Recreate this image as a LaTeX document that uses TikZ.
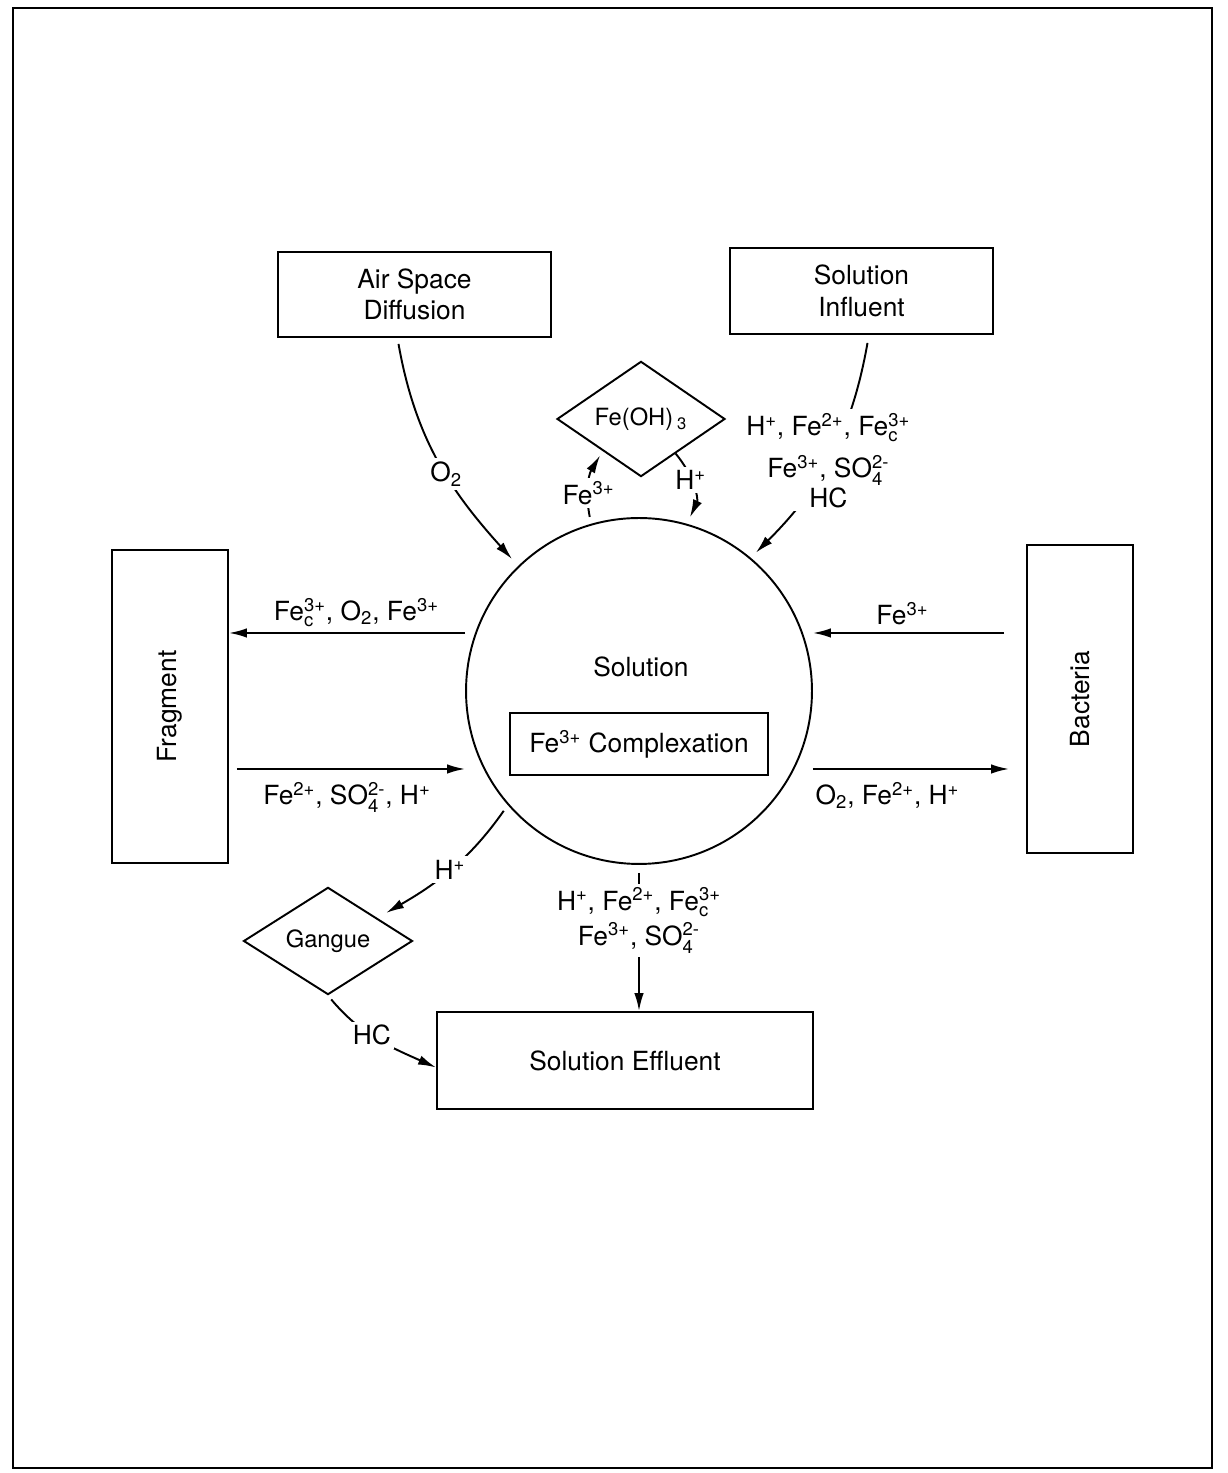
\documentclass[tikz,border=0pt]{standalone}
\usepackage{amsmath}
\usepackage{fontspec}
\setmainfont{TeX Gyre Heros}
\usetikzlibrary{arrows.meta,shapes.geometric,positioning}
\newcommand{\chsup}[1]{$^{\text{#1}}$}
\newcommand{\chsub}[1]{$_{\text{#1}}$}
\newcommand{\chss}[2]{$^{\text{#1}}_{\text{#2}}$}

\begin{document}
\begin{tikzpicture}[
            x=0.02cm, y=0.02cm,
            box/.style={draw, line width=1.1pt, align=center, inner sep=0pt, font=\fontsize{15}{18}\selectfont},
            dia/.style={diamond, draw, line width=1.1pt, inner sep=0pt, font=\fontsize{13.5}{16}\selectfont},
            ball/.style={circle, draw, line width=1.1pt, minimum size=6.92cm, inner sep=0pt},
            lab/.style={inner sep=2pt, align=center, font=\fontsize{15}{20}\selectfont},
            mask/.style={lab, fill=white},
            arr/.style={-{Latex[length=0.36cm,width=0.19cm]}, line width=1.1pt}
        ]

            \useasboundingbox (0,0) rectangle (1227,1473);
            \draw[line width=1.6pt] (13,5) rectangle (1212,1465);

% --- boxes ---
            \node[box, minimum width=5.46cm, minimum height=1.7cm] (air) at (414.5,1178.5) {Air Space\\Diffusion};
            \node[box, minimum width=5.26cm, minimum height=1.72cm] (infl) at (861.5,1182) {Solution\\Influent};
            \node[box, minimum width=2.32cm, minimum height=6.26cm] (frag) at (170,766.5) {};
            \node[lab, rotate=90] (fragname) at (frag) {Fragment};
            \node[box, minimum width=2.12cm, minimum height=6.16cm] (bact) at (1080,774) {};
            \node[lab, rotate=90] (bactname) at (bact) {Bacteria};
            \node[box, minimum width=7.52cm, minimum height=1.94cm] (eff) at (625,412.5) {Solution Effluent};

% --- solution circle ---
            \node[ball] (sol) at (639,782) {};
            \node[lab] (soltxt) at (641,806) {Solution};
            \node[box, minimum width=5.16cm, minimum height=1.24cm] (cplx) at (639,729) {Fe\chsup{3+} Complexation};

% --- precipitates ---
            \node[dia, minimum width=3.36cm, minimum height=1.98cm] (feoh) at (641,1054) {Fe(OH)\,\chsub{3}};
            \node[dia, minimum width=3.38cm, minimum height=1.9cm] (gang) at (328,532) {Gangue};

% --- inputs from above ---
            \draw[arr, shorten >=0.18cm] ([xshift=-0.32cm, yshift=-0.12cm]air.south) to[out=-80, in=132]
                node[mask, pos=0.55] (o2lab) {O\chsub{2}} (sol.134);
            \draw[arr, shorten >=0.14cm] ([xshift=0.12cm, yshift=-0.16cm]infl.south) to[out=-100, in=45]
                node[mask] (infllab) {H\chsup{+}, Fe\chsup{2+}, Fe\chss{3+}{c}\\[4pt] Fe\chsup{3+}, SO\chss{2-}{4}\\[-3pt] HC\hspace{44pt}} (sol.50);

% --- Fe(OH)3 loop ---
            \draw[arr, shorten <=0.14cm, shorten >=0.1cm] (sol.106) to[out=101, in=-121]
                node[mask, pos=0.4] (fe3lab) {Fe\chsup{3+}} (feoh.220);
            \draw[arr, shorten >=0.14cm] (feoh.-45) to[out=-50, in=65]
                node[mask, pos=0.4] (hlab) {H\chsup{+}} (sol.74);

% --- fragment exchange ---
            \draw[arr] (sol.west |- 0,840) -- node[lab, above=1pt, pos=0.46] (fragin) {Fe\chss{3+}{c}, O\chsub{2}, Fe\chsup{3+}} (frag.east |- 0,840);
            \draw[arr, shorten <=0.16cm] (frag.east |- 0,704) -- node[lab, below=5pt] (fragout) {Fe\chsup{2+}, SO\chss{2-}{4}, H\chsup{+}} (sol.west |- 0,704);

% --- bacteria exchange ---
            \draw[arr, shorten <=0.44cm] (bact.west |- 0,840) -- node[lab, above=2pt, pos=0.58] (bactout) {Fe\chsup{3+}} (sol.east |- 0,840);
            \draw[arr, shorten >=0.34cm] (sol.east |- 0,704) -- node[lab, below=5pt, pos=0.35] (bactin) {O\chsub{2}, Fe\chsup{2+}, H\chsup{+}} (bact.west |- 0,704);

% --- outputs below ---
            \draw[arr, shorten <=0.16cm] (sol.south) --
                node[mask, pos=0.38] (efflab) {H\chsup{+}, Fe\chsup{2+}, Fe\chss{3+}{c}\\ Fe\chsup{3+}, SO\chss{2-}{4}} (sol.south |- eff.north);
            \draw[arr, shorten <=0.14cm, shorten >=0.2cm] (sol.221) to[out=235, in=30]
                node[mask] (hglab) {H\chsup{+}} (gang.25);
            \draw[arr, shorten <=0.1cm] (gang.south) to[out=-50, in=156]
                node[mask, pos=0.45] (hclab) {HC} ([yshift=-0.14cm]eff.west);

        \end{tikzpicture}
\end{document}
